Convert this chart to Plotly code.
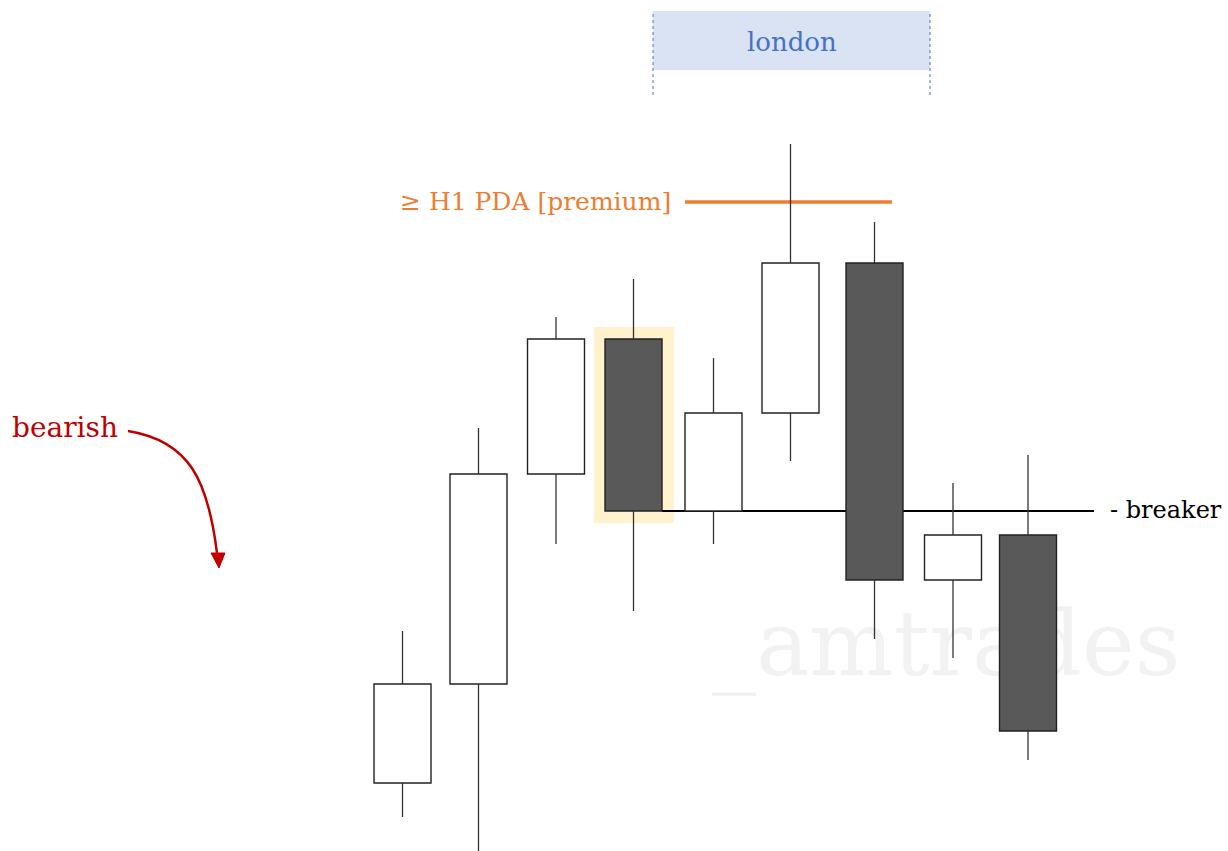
import plotly.graph_objects as go

# candle data (price units, arbitrary scale)
x_pos = [402.5, 478.5, 556, 633.5, 713.5, 790.5, 874.5, 953, 1028]
opens = [68, 167, 377, 512, 340, 438, 588, 271, 316]
highs = [220, 423, 534, 572, 493, 707, 629, 368, 396]
lows = [34, -5, 307, 240, 307, 390, 212, 193, 91]
closes = [167, 377, 512, 340, 438, 588, 271, 316, 120]

breaker_level = closes[3]
breaker_x = [662, 1094]
pda_level = 649
pda_x = [685, 892]
london_x = [653, 930]

FONT = "DejaVu Serif"
BODY_W = 57

fig = go.Figure()

# watermark behind everything
fig.add_trace(go.Scatter(
    x=[946], y=[198], mode="text", text=["_amtrades"],
    textfont=dict(family=FONT, size=89, color="#f2f2f2"),
    hoverinfo="skip", showlegend=False, zorder=-2,
))

# breaker + PDA levels
fig.add_trace(go.Scatter(
    x=breaker_x, y=[breaker_level] * 2, mode="lines",
    line=dict(color="#000000", width=2), showlegend=False, zorder=-1,
))
fig.add_trace(go.Scatter(
    x=pda_x, y=[pda_level] * 2, mode="lines",
    line=dict(color="#ed7d31", width=3.5), showlegend=False, zorder=-1,
))

# wicks
wx, wy = [], []
for x, o, h, l, c in zip(x_pos, opens, highs, lows, closes):
    top, bot = max(o, c), min(o, c)
    wx += [x, x, None, x, x, None]
    wy += [top, h, None, bot, l, None]
fig.add_trace(go.Scatter(
    x=wx, y=wy, mode="lines", line=dict(color="#333333", width=1.3),
    hoverinfo="skip", showlegend=False, zorder=1,
))

# bodies
bases = [min(o, c) for o, c in zip(opens, closes)]
heights = [abs(c - o) for o, c in zip(opens, closes)]
colors = ["#ffffff" if c > o else "#595959" for o, c in zip(opens, closes)]
fig.add_trace(go.Bar(
    x=x_pos, y=heights, base=bases, width=BODY_W,
    marker=dict(color=colors, line=dict(color="#222222", width=1.4)),
    showlegend=False, zorder=0,
))

shapes = [
    # highlight around the bearish candle
    dict(type="rect", xref="x", yref="y", x0=594, x1=674, y0=328, y1=524,
         fillcolor="#fff2cc", line=dict(width=0), layer="below"),
    # london session box
    dict(type="rect", xref="x", yref="y", x0=london_x[0], x1=london_x[1], y0=781, y1=840,
         fillcolor="#dae3f3", line=dict(width=0), layer="below"),
    dict(type="line", xref="x", yref="y", x0=london_x[0], x1=london_x[0], y0=756, y1=840,
         line=dict(color="#4472c4", width=1, dash="dot")),
    dict(type="line", xref="x", yref="y", x0=london_x[1], x1=london_x[1], y0=756, y1=840,
         line=dict(color="#4472c4", width=1, dash="dot")),
    # bearish arrow
    dict(type="path", xref="x", yref="y",
         path="M 128,420 C 190,410 208,370 217,298",
         line=dict(color="#c00000", width=2.5)),
    dict(type="path", xref="x", yref="y",
         path="M 211,298 L 225,298 L 219,283 Z",
         fillcolor="#c00000", line=dict(color="#c00000", width=1)),
]

annotations = [
    dict(x=792, y=809, text="london", showarrow=False, xanchor="center", yanchor="middle",
         font=dict(family=FONT, size=26, color="#4472c4")),
    dict(x=673, y=650, text="≥ H1 PDA [premium]", showarrow=False, xanchor="right",
         yanchor="middle", font=dict(family=FONT, size=25, color="#ed7d31")),
    dict(x=10, y=424, text="bearish", showarrow=False, xanchor="left", yanchor="middle",
         font=dict(family=FONT, size=28, color="#c00000")),
    dict(x=1108, y=341, text="- breaker", showarrow=False, xanchor="left", yanchor="middle",
         font=dict(family=FONT, size=24, color="#000000")),
]

fig.update_layout(
    width=1228, height=851,
    margin=dict(l=0, r=0, t=0, b=0),
    paper_bgcolor="white", plot_bgcolor="white",
    xaxis=dict(range=[0, 1228], visible=False, fixedrange=True),
    yaxis=dict(range=[0, 851], visible=False, fixedrange=True),
    shapes=shapes, annotations=annotations,
    showlegend=False,
)

# page body has a default 8px margin; drop it so the figure sits at 0,0
fig.write_html("out.html", config={"displayModeBar": False},
               post_script="document.body.style.margin='0';")
